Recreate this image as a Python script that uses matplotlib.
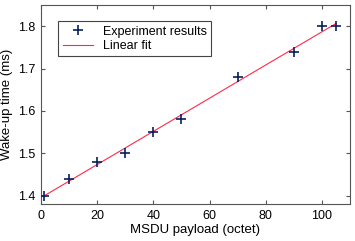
import matplotlib
matplotlib.use('Agg')
import matplotlib.pyplot as plt
import numpy as np

plt.rcParams['font.family'] = ['Liberation Sans', 'DejaVu Sans']

payload = [1, 10, 20, 30, 40, 50, 70, 90, 100, 105]
wakeup = [1.40, 1.44, 1.48, 1.50, 1.55, 1.58, 1.68, 1.74, 1.80, 1.80]
x_ticks = [0, 20, 40, 60, 80, 100]
y_ticks = [1.4, 1.5, 1.6, 1.7, 1.8]

slope, icpt = np.polyfit(payload, wakeup, 1)
fit_x = np.array([payload[0], payload[-1]])
fit_y = slope * fit_x + icpt

fig = plt.figure(figsize=(3.55, 2.41), dpi=100)
ax = fig.add_axes([41/355, 1 - 204/241, 309/355, 199/241])

ax.plot(payload, wakeup, '+', color='#0a1f5c', ms=7, mew=1.2, label='Experiment results', zorder=3)
ax.plot(fit_x, fit_y, '-', color='#ff2a4a', lw=0.8, label='Linear fit', zorder=2)

ax.set_xlim(0, 110)
ax.set_ylim(1.38, 1.85)
ax.set_xticks(x_ticks)
ax.set_yticks(y_ticks)
ax.tick_params(direction='in', top=True, right=True, labelsize=9, length=3,
               color='#555555', pad=4)
for s in ax.spines.values():
    s.set_color('#555555')
    s.set_linewidth(0.8)

ax.set_xlabel('MSDU payload (octet)', fontsize=9.5, labelpad=2)
ax.set_ylabel('Wake-up time (ms)', fontsize=9.5, labelpad=4)

leg = ax.legend(loc='upper left', fontsize=9, fancybox=False, framealpha=1,
                edgecolor='#444444', borderpad=0.35, handlelength=2.4,
                labelspacing=0.2, bbox_to_anchor=(0.036, 0.95))
leg.get_frame().set_linewidth(0.8)

fig.savefig('out.png', dpi=100)
